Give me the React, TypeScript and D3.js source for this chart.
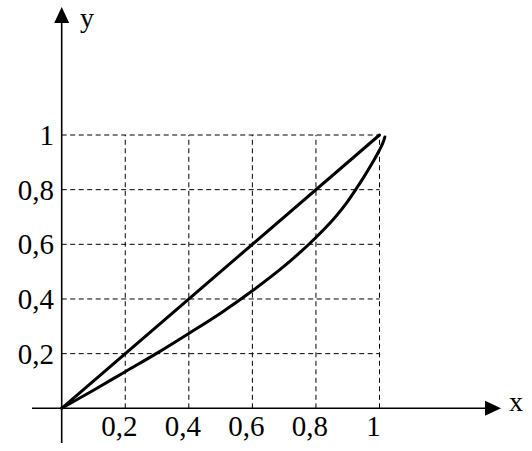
import React from "react";
import * as d3 from "d3";

const gridTicks = [0.2, 0.4, 0.6, 0.8, 1];
const xTickLabels = ["0,2", "0,4", "0,6", "0,8", "1"];
const yTickLabels = ["0,2", "0,4", "0,6", "0,8", "1"];

const lineX = [0, 1];
const lineY = [0, 1];

const curveX = [0, 0.1, 0.2, 0.3, 0.4, 0.5, 0.6, 0.7, 0.8, 0.85, 0.9, 0.925, 0.95, 0.975, 1.0, 1.012, 1.017];
const curveY = [0, 0.066, 0.134, 0.202, 0.274, 0.348, 0.43, 0.52, 0.625, 0.685, 0.757, 0.8, 0.845, 0.893, 0.945, 0.975, 0.993];

const W = 532;
const H = 451;
const FONT = "Liberation Serif";

export default function App() {
  const x = d3.scaleLinear().domain([0, 1]).range([61.7, 379.5]);
  const y = d3.scaleLinear().domain([0, 1]).range([408.3, 135]);

  const line = d3
    .line<[number, number]>()
    .x((d) => x(d[0]))
    .y((d) => y(d[1]));

  const curveLine = d3
    .line<[number, number]>()
    .x((d) => x(d[0]))
    .y((d) => y(d[1]))
    .curve(d3.curveMonotoneX);

  const straight: [number, number][] = lineX.map((v, i) => [v, lineY[i]]);
  const curved: [number, number][] = curveX.map((v, i) => [v, curveY[i]]);

  const x0 = x(0);
  const y0 = y(0);

  return (
    <svg
      width={W}
      height={H}
      style={{ position: "absolute", left: 0, top: 0, background: "#fff" }}
    >
      <rect x={0} y={0} width={W} height={H} fill="#fff" />
      {/* grid */}
      <g stroke="#000" strokeWidth={1} strokeDasharray="5,3.5" fill="none">
        {gridTicks.map((t) => (
          <line key={"h" + t} x1={x0} x2={x(1)} y1={y(t)} y2={y(t)} />
        ))}
        {gridTicks.map((t) => (
          <line key={"v" + t} x1={x(t)} x2={x(t)} y1={y0} y2={y(1)} />
        ))}
      </g>
      {/* axes */}
      <g stroke="#000" strokeWidth={1.6}>
        <line x1={32} x2={488} y1={y0} y2={y0} />
        <line x1={x0} x2={x0} y1={443} y2={20} />
      </g>
      <path d={`M${501},${y0} L${485},${y0 - 7.5} L${485},${y0 + 7.5} Z`} fill="#000" />
      <path d={`M${x0},${7} L${x0 - 7.5},${23} L${x0 + 7.5},${23} Z`} fill="#000" />
      <text x={509} y={411} fontFamily={FONT} fontSize={28} fill="#000">
        x
      </text>
      <text x={80} y={27} fontFamily={FONT} fontSize={28} fill="#000">
        y
      </text>
      {/* tick labels */}
      <g fontFamily={FONT} fontSize={29} fill="#000">
        {gridTicks.map((t, i) => (
          <text key={"xl" + t} x={x(t) - 6} y={436} textAnchor="middle">
            {xTickLabels[i]}
          </text>
        ))}
        {gridTicks.map((t, i) => (
          <text key={"yl" + t} x={54} y={y(t) + 10} textAnchor="end">
            {yTickLabels[i]}
          </text>
        ))}
      </g>
      {/* curves */}
      <path d={line(straight) || ""} fill="none" stroke="#000" strokeWidth={3} strokeLinecap="round" />
      <path d={curveLine(curved) || ""} fill="none" stroke="#000" strokeWidth={3} strokeLinecap="round" />
    </svg>
  );
}
